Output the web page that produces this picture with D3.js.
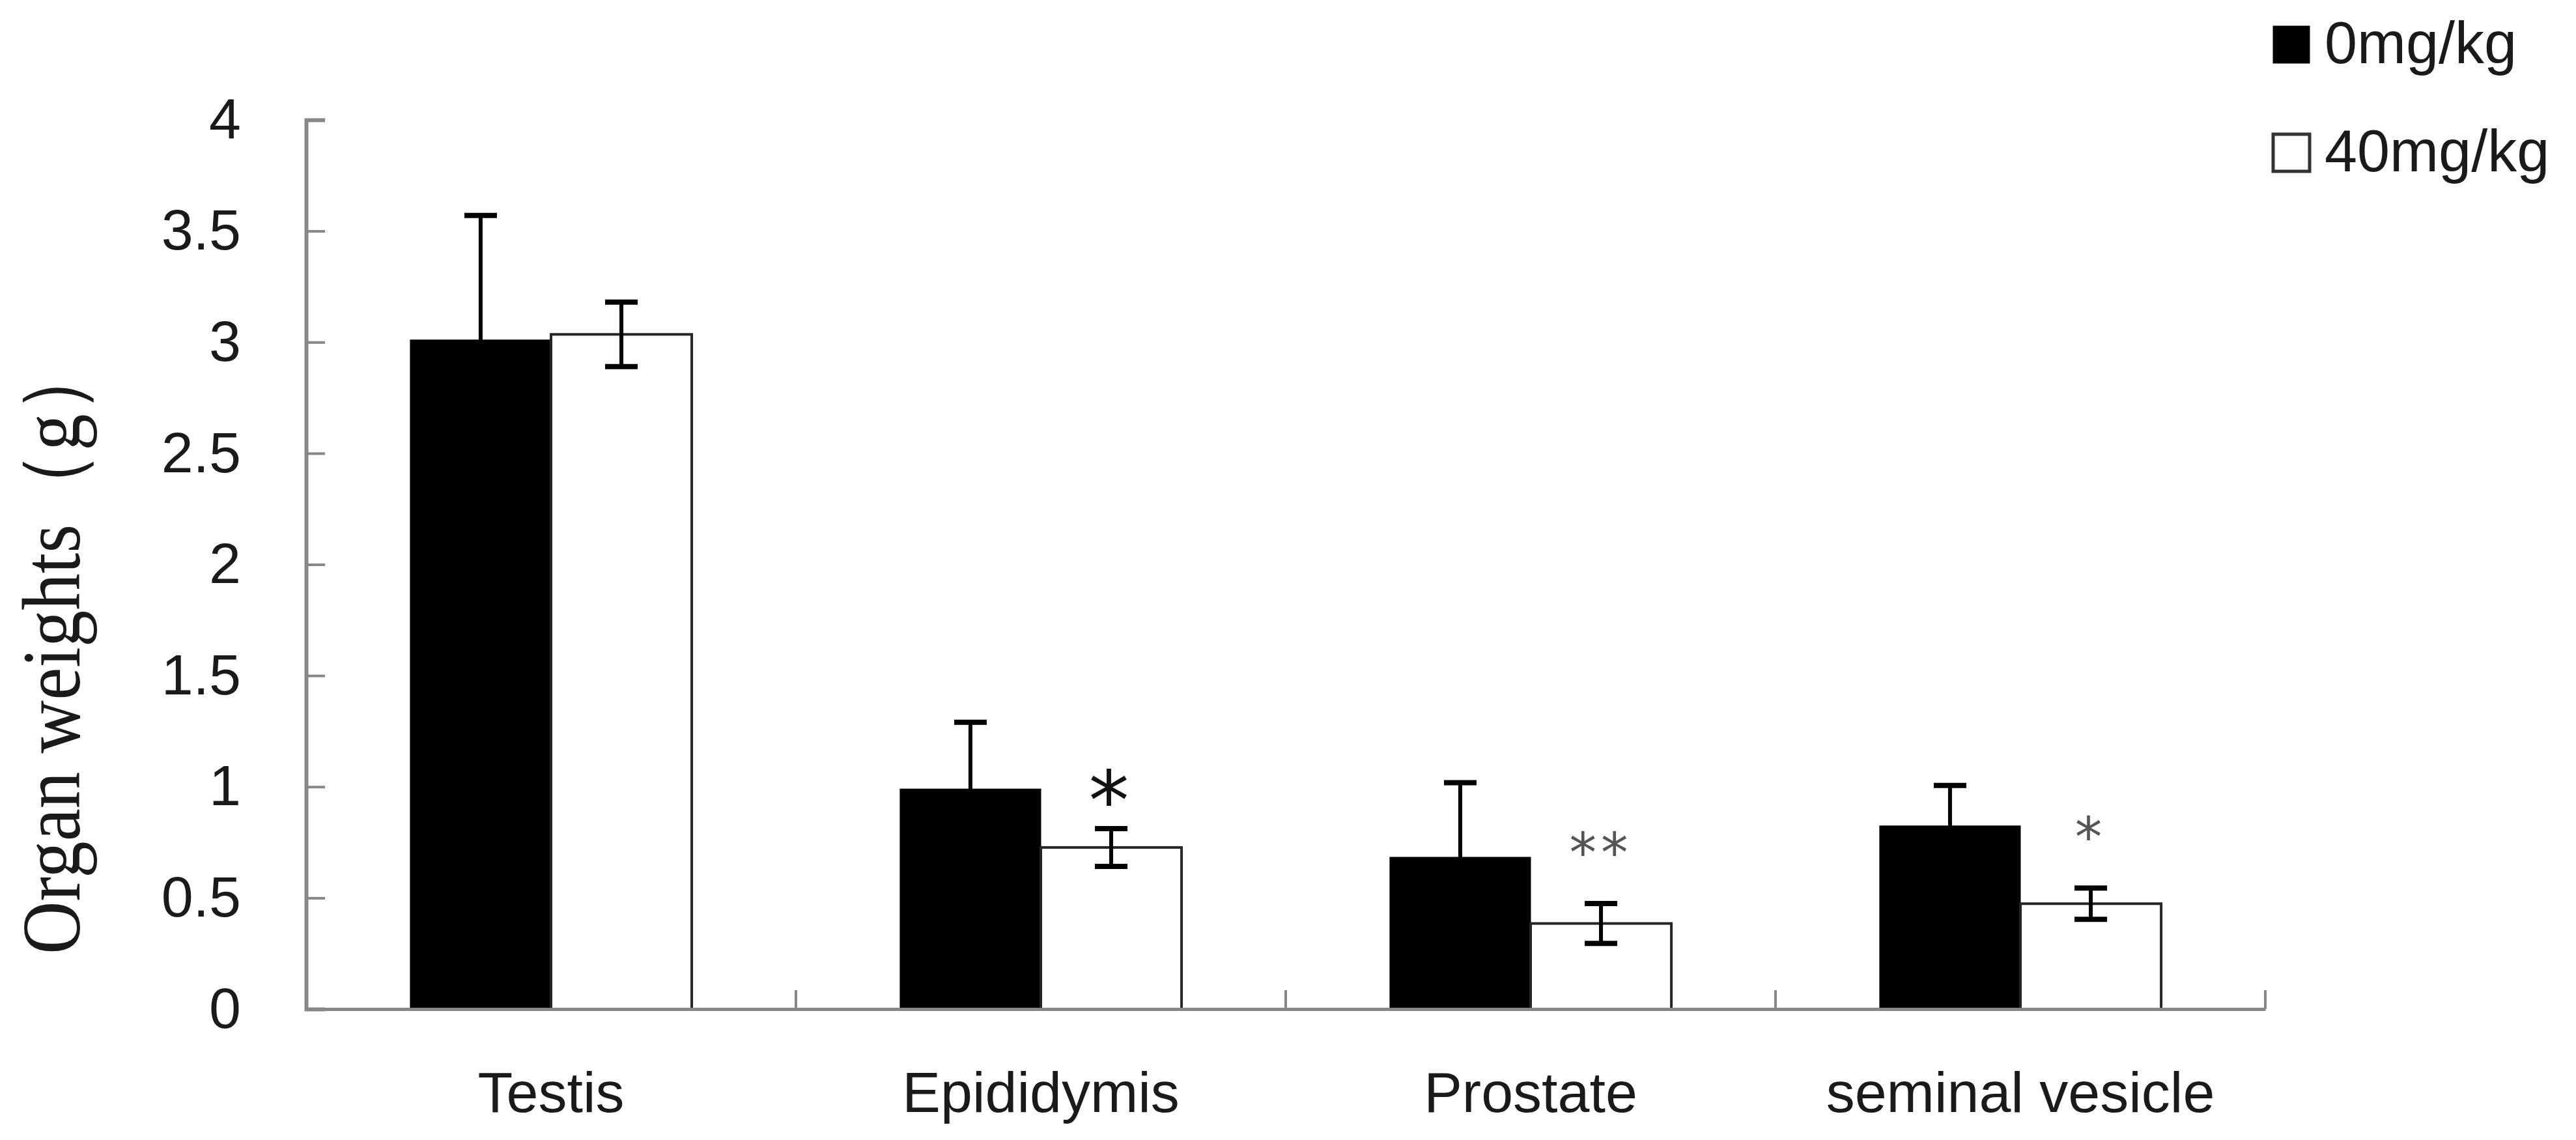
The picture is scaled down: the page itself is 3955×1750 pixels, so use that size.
<!DOCTYPE html>
<html>
<head>
<meta charset="utf-8">
<script src="https://cdn.jsdelivr.net/npm/d3@7"></script>
<style>
  body { margin: 0; background: #fff; }
</style>
</head>
<body>
<svg id="chart" width="3955" height="1750"></svg>
<script>
// DATA
var organs = ["Testis", "Epididymis", "Prostate", "seminal vesicle"];
var doses = ["0mg/kg", "40mg/kg"];
var mean0 = [3.01, 0.99, 0.683, 0.824]; // 0mg/kg
var sd0 = [0.56, 0.30, 0.335, 0.182];
var mean40 = [3.035, 0.727, 0.385, 0.474]; // 40mg/kg
var sd40 = [0.145, 0.085, 0.09, 0.07];
var marks40 = ["", "*", "**", "*"]; // significance over 40mg/kg bars
var yTicks = [0, 0.5, 1, 1.5, 2, 2.5, 3, 3.5, 4];
var yTickLabels = ["0", "0.5", "1", "1.5", "2", "2.5", "3", "3.5", "4"];
var yTitle = "Organ weights\uFF08g\uFF09";

// Layout (note: "top" is taken by window.top, so plot* names)
var canvas = d3.select("#chart");
var plotLeft = 470, plotRight = 3478, plotTop = 184, plotBottom = 1549;
var axisColor = "#878787";
var sansFont = "'Liberation Sans', Arial, sans-serif";
var starFont = "'DejaVu Sans', sans-serif";

// table built from arrays
var rows = organs.map(function (o, i) {
    return [
        { organ: o, dose: doses[0], m: mean0[i], sd: sd0[i], mark: "" },
        { organ: o, dose: doses[1], m: mean40[i], sd: sd40[i], mark: marks40[i] }
    ];
});
var bars = d3.merge(rows);

// Scales
var x = d3.scaleBand().domain(organs).range([plotLeft, plotRight]).paddingInner(0).paddingOuter(0);
var xs = d3.scaleBand().domain(doses).range([0, x.bandwidth()]).paddingInner(0).paddingOuter(0.74);
var y = d3.scaleLinear().domain([0, 4]).range([plotBottom, plotTop]);
var fill = d3.scaleOrdinal().domain(doses).range(["#000000", "#ffffff"]);
var edge = d3.scaleOrdinal().domain(doses).range(["#000000", "#262626"]);

canvas.append("rect").attr("width", 3955).attr("height", 1750).attr("fill", "#fff");

// BARS
canvas.append("g").selectAll("rect")
    .data(bars)
    .join("rect")
    .attr("x", function (d) { return x(d.organ) + xs(d.dose); })
    .attr("y", function (d) { return y(d.m); })
    .attr("width", xs.bandwidth())
    .attr("height", function (d) { return y(0) - y(d.m); })
    .attr("fill", function (d) { return fill(d.dose); })
    .attr("stroke", function (d) { return edge(d.dose); })
    .attr("stroke-width", function (d) { return d.dose == doses[0] ? 1 : 4; });

// Y axis
var yAxis = d3.axisLeft(y)
    .tickValues(yTicks)
    .tickFormat(function (d, i) { return yTickLabels[i]; })
    .tickSize(-29)
    .tickPadding(100);
var gy = canvas.append("g").attr("transform", "translate(" + plotLeft + ",0)").call(yAxis);
gy.select(".domain").attr("stroke", axisColor).attr("stroke-width", 6);
gy.selectAll(".tick line").attr("stroke", axisColor).attr("stroke-width", 4);
gy.selectAll(".tick text")
    .attr("fill", "#1a1a1a")
    .style("font-family", sansFont)
    .style("font-size", "88px");

// X axis (labels only, boundary ticks added below)
var xAxis = d3.axisBottom(x).tickSize(0).tickPadding(96);
var gx = canvas.append("g").attr("transform", "translate(0," + plotBottom + ")").call(xAxis);
gx.select(".domain").attr("stroke", axisColor).attr("stroke-width", 5);
gx.selectAll(".tick text")
    .attr("fill", "#1a1a1a")
    .style("font-family", sansFont)
    .style("font-size", "88px");

var bounds = organs.map(function (o) { return x(o); }).concat([x.range()[1]]);
canvas.append("g").selectAll("line")
    .data(bounds.slice(1))
    .join("line")
    .attr("x1", function (d) { return d; })
    .attr("x2", function (d) { return d; })
    .attr("y1", plotBottom)
    .attr("y2", plotBottom - 29)
    .attr("stroke", axisColor)
    .attr("stroke-width", 4);

// ERROR BARS
var capW = 50;
var err = canvas.append("g").selectAll("g")
    .data(bars)
    .join("g")
    .attr("transform", function (d) {
        return "translate(" + (x(d.organ) + xs(d.dose) + xs.bandwidth() / 2) + ",0)";
    });
err.append("line")
    .attr("y1", function (d) { return y(d.m - d.sd); })
    .attr("y2", function (d) { return y(d.m + d.sd); })
    .attr("stroke", "#000").attr("stroke-width", 6);
err.append("line")
    .attr("x1", -capW / 2).attr("x2", capW / 2)
    .attr("y1", function (d) { return y(d.m + d.sd); })
    .attr("y2", function (d) { return y(d.m + d.sd); })
    .attr("stroke", "#000").attr("stroke-width", 8);
err.append("line")
    .attr("x1", -capW / 2).attr("x2", capW / 2)
    .attr("y1", function (d) { return y(d.m - d.sd); })
    .attr("y2", function (d) { return y(d.m - d.sd); })
    .attr("stroke", "#000").attr("stroke-width", 8);

// significance stars: the single-star epididymis one is bigger and black
err.filter(function (d) { return d.mark.length > 0; })
    .append("text")
    .attr("text-anchor", "middle")
    .attr("y", function (d) {
        var big = d.organ == organs[1];
        return y(d.m + d.sd) - (big ? 70 : 97) + (big ? 71 : 48);
    })
    .attr("fill", function (d) { return d.organ == organs[1] ? "#111" : "#555"; })
    .style("font-family", starFont)
    .style("font-size", function (d) { return d.organ == organs[1] ? "124px" : "83px"; })
    .style("letter-spacing", "7px")
    .text(function (d) { return d.mark; });

// Y title (a bit stretched like the picture)
canvas.append("text")
    .attr("transform", "translate(122,1465) scale(1.12,1) rotate(-90)")
    .attr("text-anchor", "start")
    .attr("fill", "#1a1a1a")
    .style("font-family", "'Liberation Serif', 'Times New Roman', serif")
    .style("font-size", "113px")
    .text(yTitle);

// LEGEND
var legend = canvas.append("g").selectAll("g")
    .data(doses)
    .join("g")
    .attr("transform", function (d, i) { return "translate(3490," + (i == 0 ? 40 : 206) + ")"; });
legend.append("rect")
    .attr("width", 56).attr("height", 57)
    .attr("fill", function (d) { return fill(d); })
    .attr("stroke", function (d) { return d == doses[0] ? "#000" : "#333"; })
    .attr("stroke-width", function (d) { return d == doses[0] ? 1 : 5; });
legend.append("text")
    .attr("x", 79).attr("y", 57)
    .attr("fill", "#1a1a1a")
    .style("font-family", sansFont)
    .style("font-size", "90px")
    .text(function (d) { return d; });
</script>
</body>
</html>
